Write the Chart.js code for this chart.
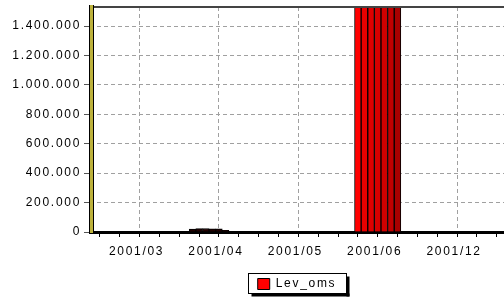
<!DOCTYPE html>
<html>
<head>
<meta charset="utf-8">
<script src="https://cdn.jsdelivr.net/npm/chart.js@4/dist/chart.umd.min.js"></script>
<style>
  html, body { margin: 0; padding: 0; background: #fff; overflow: hidden; }
  canvas { display: block; }
</style>
</head>
<body>
<canvas id="grafiek" width="504" height="298"></canvas>
<script>
// x axis: 21 periods, each split into 3 sub-slots (1 unit = 1 sub-slot)
var periodCount = 21;
var tickLabels = ['2001/03', '2001/04', '2001/05', '2001/06', '2001/12'];
var tickPeriods = [2, 6, 10, 14, 18];

// y axis ticks
var yTicks = [0, 200000, 400000, 600000, 800000, 1000000, 1200000, 1400000];
var yMax = 1530000;

// bars: sub-slot position and value
var barSlots  = [15, 16, 17, 18, 19, 20, 40, 41, 42, 43, 44, 45, 46];
var barValues = [20000, 23000, 24000, 22000, 21000, 12000,
                 2450000, 2800000, 3100000, 2950000, 2700000, 2600000, 2350000];

// shades for the bars
var shades = ['#200000', '#200000', '#200000', '#200000', '#200000', '#200000',
              '#ff0000', '#e80000', '#e00000', '#d80000', '#d00000', '#c00000', '#a80000'];

var slotTicks = [];
for (var j = 0; j < periodCount; j++) slotTicks.push(3 * j + 1);

function fmt(v) {
    return String(v).replace(/\B(?=(\d{3})+(?!\d))/g, '.');
}

Chart.defaults.font.family = 'Liberation Sans, Arial, sans-serif';
Chart.defaults.font.size = 12;
Chart.defaults.color = '#000';

// wide letter spacing like the original bitmap font
var spacing = {
    id: 'spacing',
    beforeUpdate: function (c) { c.ctx.letterSpacing = '1.7px'; },
    beforeDraw: function (c) { c.ctx.letterSpacing = '1.7px'; }
};

// top line of the plot and the olive/yellow y axis
var frame = {
    id: 'frame',
    afterDatasetsDraw: function (chart) {
        var c = chart.ctx, a = chart.chartArea;
        c.save();
        c.strokeStyle = '#444';
        c.lineWidth = 2;
        c.beginPath();
        c.moveTo(a.left, a.top);
        c.lineTo(a.right, a.top);
        c.stroke();
        c.fillStyle = '#000';
        c.fillRect(a.left - 1, a.top - 2, 5, a.bottom - a.top + 3);
        c.fillStyle = '#bdb23c';
        c.fillRect(a.left, a.top - 2, 3, a.bottom - a.top + 3);
        c.restore();
    }
};

// boxed legend with a drop shadow
var legendFrame = {
    id: 'legendFrame',
    afterDraw: function (chart) {
        var hb = chart.legend.legendHitBoxes[0];
        if (!hb) return;
        var c = chart.ctx;
        var x = Math.round(hb.left) - 9.5, y = Math.round(hb.top) - 4.5;
        var w = Math.round(hb.width) + 19, h = Math.round(hb.height) + 8;
        c.save();
        c.fillStyle = '#000';
        c.fillRect(x + w, y + 3, 3, h);
        c.fillRect(x + 3, y + h, w, 3);
        c.strokeStyle = '#000';
        c.lineWidth = 1;
        c.strokeRect(x, y, w, h);
        c.restore();
    }
};

window.onload = function () {
    var ctx = document.getElementById('grafiek').getContext('2d');
    new Chart(ctx, {
        type: 'bar',
        data: {
            datasets: [{
                label: 'Lev_oms',
                data: barSlots.map(function (s, i) { return { x: s, y: barValues[i] }; }),
                backgroundColor: function (c) {
                    return c.type === 'data' ? shades[c.dataIndex] : '#ff0000';
                },
                borderColor: '#000',
                borderWidth: 1,
                barPercentage: 1,
                categoryPercentage: 1
            }]
        },
        options: {
            responsive: false,
            animation: false,
            layout: { padding: { top: 7, left: 0, right: 0, bottom: -2 } },
            plugins: {
                legend: {
                    position: 'bottom',
                    fullSize: false,
                    labels: {
                        boxWidth: 12,
                        boxHeight: 11,
                        padding: 10,
                        color: '#000',
                        generateLabels: function (chart) {
                            var items = Chart.defaults.plugins.legend.labels.generateLabels(chart);
                            items.forEach(function (it) { it.fillStyle = '#ff0000'; });
                            return items;
                        }
                    }
                },
                tooltip: { enabled: false }
            },
            scales: {
                x: {
                    type: 'linear',
                    min: -0.5,
                    max: 62.1,
                    offset: false,
                    afterBuildTicks: function (axis) {
                        axis.ticks = slotTicks.map(function (v) { return { value: v }; });
                    },
                    afterFit: function (axis) { axis.height = 36; },
                    grid: {
                        offset: false,
                        color: function (c) {
                            return tickPeriods.indexOf(c.index) >= 0 ? '#a0a0a0' : 'rgba(0,0,0,0)';
                        },
                        tickColor: '#000',
                        tickLength: 5
                    },
                    border: { color: '#000', width: 3, dash: [4, 3] },
                    ticks: {
                        autoSkip: false,
                        maxRotation: 0,
                        padding: 7,
                        labelOffset: -3,
                        callback: function (v, i) {
                            var k = tickPeriods.indexOf(i);
                            return k >= 0 ? tickLabels[k] : '';
                        }
                    }
                },
                y: {
                    min: 0,
                    max: yMax,
                    afterBuildTicks: function (axis) {
                        axis.ticks = yTicks.map(function (v) { return { value: v }; });
                    },
                    afterFit: function (axis) {
                        axis.width = 90;
                        axis.paddingTop = 0;
                        axis.paddingBottom = 0;
                    },
                    grid: { color: '#a0a0a0', tickColor: '#555', tickLength: 6 },
                    border: { display: false, dash: [4, 3] },
                    ticks: {
                        padding: 3,
                        callback: function (v) { return fmt(v); }
                    }
                }
            }
        },
        plugins: [spacing, frame, legendFrame]
    });
};
</script>
</body>
</html>
